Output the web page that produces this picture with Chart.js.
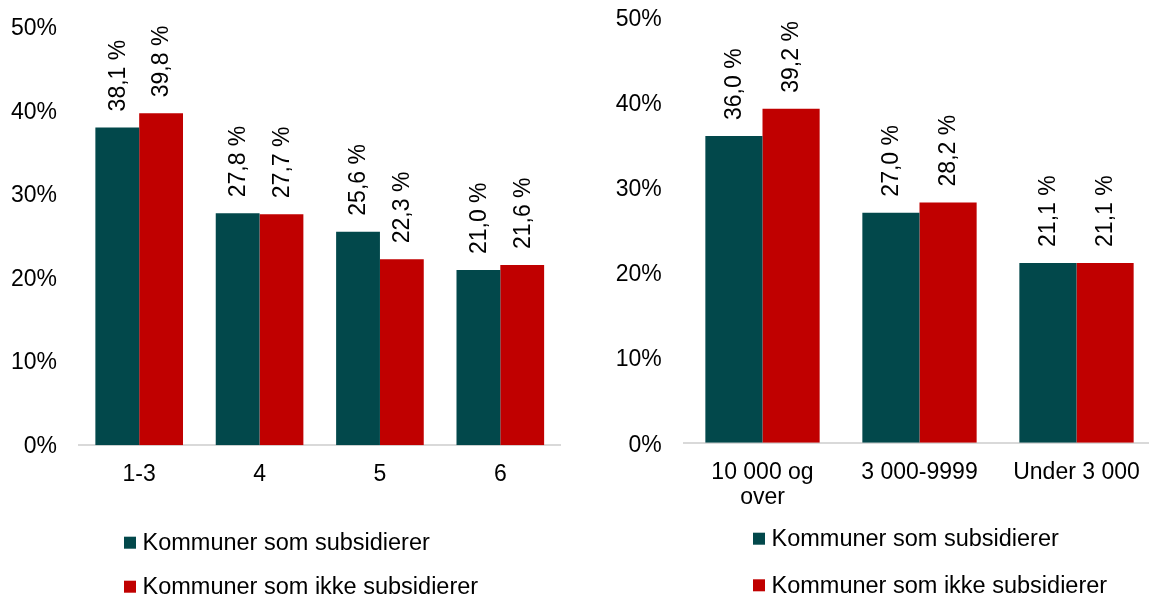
<!DOCTYPE html>
<html>
<head>
<meta charset="utf-8">
<script src="https://cdn.jsdelivr.net/npm/chart.js@4.4.1/dist/chart.umd.min.js"></script>
<style>
html,body{margin:0;padding:0;background:#fff;overflow:hidden;width:1149px;height:601px;}
canvas{position:absolute;top:0;}
#c1{left:0;}
#c2{left:590px;}
</style>
</head>
<body>
<canvas id="c1" width="575" height="601"></canvas>
<canvas id="c2" width="570" height="601"></canvas>
<script>
// ---- data ----
const seriesNames = ['Kommuner som subsidierer', 'Kommuner som ikke subsidierer'];
const leftCategories = ['1-3', '4', '5', '6'];
const leftSubsid = [38.1, 27.8, 25.6, 21.0];
const leftIkke = [39.8, 27.7, 22.3, 21.6];
const rightCategories = [['10 000 og', 'over'], '3 000-9999', 'Under 3 000'];
const rightSubsid = [36.0, 27.0, 21.1];
const rightIkke = [39.2, 28.2, 21.1];
const yTicks = [0, 10, 20, 30, 40, 50];

const TEAL = '#02484B';
const RED = '#C00000';
const FONT = '"Liberation Sans", Arial, Helvetica, sans-serif';

const valueLabels = {
  id: 'valueLabels',
  afterDatasetsDraw(chart) {
    const ctx = chart.ctx;
    ctx.save();
    ctx.fillStyle = '#000';
    ctx.font = '23px ' + FONT;
    ctx.textAlign = 'left';
    ctx.textBaseline = 'middle';
    chart.data.datasets.forEach((ds, i) => {
      const meta = chart.getDatasetMeta(i);
      meta.data.forEach((bar, j) => {
        const txt = ds.data[j].toFixed(1).replace('.', ',') + ' %';
        ctx.save();
        ctx.translate(bar.x + 1, bar.y - 16);
        ctx.rotate(-Math.PI / 2);
        ctx.fillText(txt, 0, 0);
        ctx.restore();
      });
    });
    ctx.restore();
  }
};

const customLegend = {
  id: 'customLegend',
  afterDraw(chart, args, opts) {
    const ctx = chart.ctx;
    ctx.save();
    ctx.font = '23.5px ' + FONT;
    ctx.textBaseline = 'middle';
    ctx.textAlign = 'left';
    chart.data.datasets.forEach((ds, i) => {
      const y = opts.y[i];
      ctx.fillStyle = ds.backgroundColor;
      ctx.fillRect(opts.x, y - 6, 12, 12);
      ctx.fillStyle = '#000';
      ctx.fillText(ds.label, opts.x + 18.5, y + 1);
    });
    ctx.restore();
  }
};

function makeChart(id, cats, s1, s2, cfg) {
  return new Chart(document.getElementById(id), {
    type: 'bar',
    data: {
      labels: cats,
      datasets: [
        { label: seriesNames[0], data: s1, backgroundColor: TEAL },
        { label: seriesNames[1], data: s2, backgroundColor: RED }
      ]
    },
    options: {
      responsive: false,
      animation: false,
      devicePixelRatio: 1,
      layout: { padding: { left: 0, right: cfg.padRight, top: cfg.padTop, bottom: 0 } },
      datasets: { bar: { categoryPercentage: 0.728, barPercentage: 1.0 } },
      plugins: {
        legend: { display: false },
        tooltip: { enabled: false },
        customLegend: { x: cfg.legX, y: cfg.legY }
      },
      scales: {
        x: {
          grid: { display: false, drawTicks: true, tickLength: 17 },
          border: { display: true, color: '#D9D9D9', width: 2 },
          ticks: { color: '#000', font: { family: FONT, size: 23, lineHeight: 1.09 }, padding: 0, maxRotation: 0, autoSkip: false },
          afterFit(scale) { scale.height = cfg.xHeight; }
        },
        y: {
          min: yTicks[0], max: yTicks[yTicks.length - 1],
          afterBuildTicks(scale) { scale.ticks = yTicks.map(v => ({ value: v })); },
          grid: { display: false, drawTicks: true, tickLength: cfg.yPad },
          border: { display: false },
          ticks: { color: '#000', font: { family: FONT, size: 23 }, padding: 0, labelOffset: cfg.yOff, callback: v => v + '%' },
          afterFit(scale) { scale.width = cfg.yWidth; }
        }
      }
    },
    plugins: [valueLabels, customLegend]
  });
}

makeChart('c1', leftCategories, leftSubsid, leftIkke, {
  padRight: 14.5, padTop: 28.1, xHeight: 601 - 445.3, yWidth: 79, yPad: 22, yOff: 1,
  legX: 124, legY: [542.7, 586.7]
});
makeChart('c2', rightCategories, rightSubsid, rightIkke, {
  padRight: 5, padTop: 16.7, xHeight: 601 - 442.7, yWidth: 94, yPad: 22.3, yOff: 2.5,
  legX: 753 - 590, legY: [538.7, 585.3]
});
</script>
</body>
</html>
